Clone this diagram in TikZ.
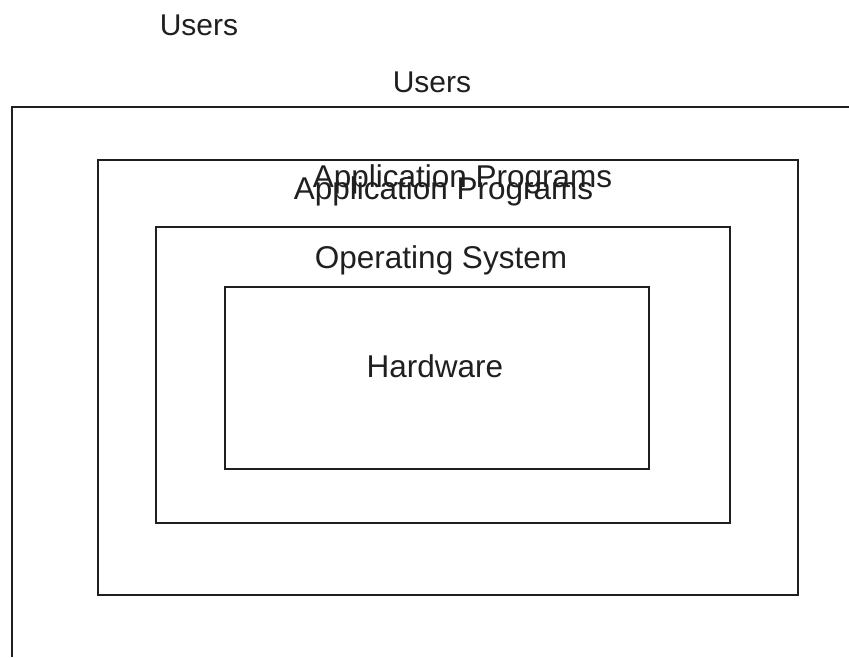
\documentclass[tikz,border=0pt]{standalone}
\usepackage{fontspec}
\setmainfont{Liberation Sans}
\begin{document}
\begin{tikzpicture}[x=1pt,y=-1pt,
  layer/.style={draw=black!88,line width=1.6pt,rectangle,inner sep=0pt,anchor=north west},
  label/.style={font=\fontsize{31.5}{38}\selectfont,text=black!88,inner sep=0pt,anchor=base},
  toplabel/.style={label,font=\fontsize{30}{36}\selectfont}]
  \useasboundingbox (0,0) rectangle (849,657);
  % open outer frame running off the page
  \coordinate (frameTR) at (849,107);
  \coordinate (frameTL) at (12,107);
  \coordinate (frameBL) at (12,657);
  \draw[draw=black!88,line width=1.6pt] (frameTR) -- (frameTL) -- (frameBL);
  % nested layers
  \node[layer,minimum width=700pt,minimum height=435pt] (apps) at (97,159) {};
  \node[layer,minimum width=574pt,minimum height=296pt] (os) at (155,226) {};
  \node[layer,minimum width=424pt,minimum height=182pt] (hw) at (224,286) {};
  % labels
  \node[toplabel] (users1) at (199,35) {Users};
  \node[toplabel] (users2) at (432,92) {Users};
  \node[label] (apps1) at (462.5,187) {Application Programs};
  \node[label] (apps2) at (443.5,199) {Application Programs};
  \node[label] (oslbl) at (441,268) {Operating System};
  \node[label] (hwlbl) at (435,377) {Hardware};
\end{tikzpicture}
\end{document}
